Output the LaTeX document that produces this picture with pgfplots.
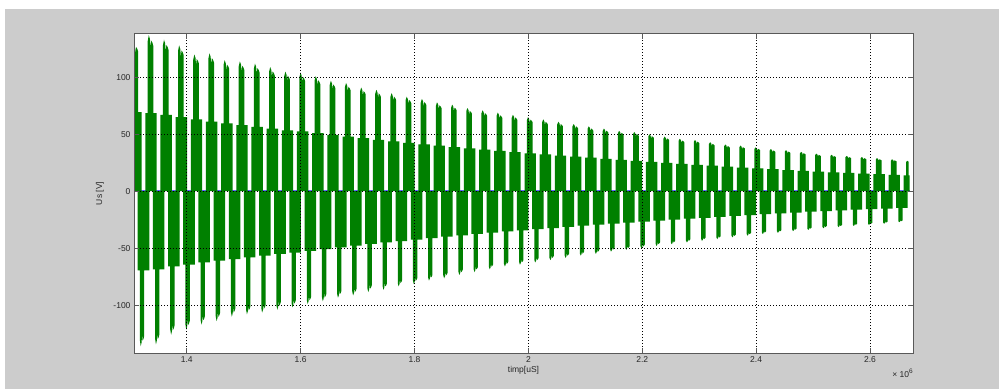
\documentclass[border=0pt]{standalone}
\usepackage{pgfplots}
\pgfplotsset{compat=1.18}
\usepackage{pgfplotstable}
\usepackage{fontspec}
\setmainfont{Liberation Sans}

\definecolor{figgray}{RGB}{204,204,204}
\definecolor{sgreen}{RGB}{0,128,0}
\definecolor{zblue}{RGB}{100,100,255}

% one row per switching cycle: c = centre of the positive burst [x 10^6 us],
% pk/pb = positive peak and plateau [V], nk/nb = negative peak and plateau [V]
\pgfplotstableread{
c      pk    pb    nk    nb
1.3098 131   69.5  138   70.5
1.3364 137   68.5  136   69.5
1.3631 133   67    134.5 68.5
1.3897 128   65    126   66
1.4164 120   63    121.5 64.5
1.4430 121   61    117   62.5
1.4696 115   59.5  114   61
1.4963 114   58    110   59.5
1.5229 112   56.5  108   58
1.5496 109   55    106.5 56.5
1.5762 105   53.5  104   55
1.6028 104   52.5  102   53.8
1.6295 101   51    99    52.3
1.6561 97    49.5  96.5  50.8
1.6828 95    48    93.5  49.3
1.7094 91    46.5  91.5  47.8
1.7360 89    45    88.5  46.3
1.7627 86    43.8  86.5  45
1.7893 83    42.5  83.5  43.7
1.8160 81    41.2  81.5  42.4
1.8426 78    40    78.5  41.1
1.8692 76    38.8  76.5  39.9
1.8959 73    37.6  73.5  38.7
1.9225 71    36.5  71    37.5
1.9492 69    35.4  68.5  36.4
1.9758 67    34.3  66    35.3
2.0024 65    33.3  64.5  34.3
2.0291 63    32.3  62.5  33.3
2.0557 61    31.3  60.5  32.3
2.0824 59    30.3  58.5  31.3
2.1090 57    29.4  56.5  30.3
2.1356 55    28.5  55    29.4
2.1623 53    27.6  53    28.5
2.1889 52    26.7  51.5  27.6
2.2156 50    25.8  50    26.7
2.2422 48    24.9  48    25.8
2.2688 46    24    46.5  24.9
2.2955 45    23.2  45    24.1
2.3221 43    22.4  43.5  23.3
2.3488 41    21.6  42    22.5
2.3754 40    20.8  40.5  21.7
2.4020 38.5  20    39    20.9
2.4287 37    19.3  37.5  20.1
2.4553 36    18.6  36.5  19.4
2.4820 34.5  17.9  35    18.7
2.5086 33    17.2  34    18
2.5352 32    16.6  32.5  17.4
2.5619 31    16    31.5  16.8
2.5885 30    15.4  30.5  16.2
2.6152 29    14.9  29.5  15.7
2.6418 28    14.4  28.5  15.2
2.6684 26.7  13.9  27.2  14.7
}\cycles

% positive burst: plateau with a notched spike, #1 centre, #2 peak, #3 plateau
\newcommand\pospulse[3]{%
  \pgfmathsetmacro\pXa{#1-0.0092}\pgfmathsetmacro\pXb{#1+0.0108}%
  \pgfmathsetmacro\pSa{#1-0.0050}\pgfmathsetmacro\pSb{#1-0.0030}%
  \pgfmathsetmacro\pSc{#1-0.0010}\pgfmathsetmacro\pSd{#1}%
  \pgfmathsetmacro\pSe{#1+0.0012}\pgfmathsetmacro\pSf{#1+0.0035}%
  \pgfmathsetmacro\pSg{#1+0.0050}%
  \pgfmathsetmacro\pYa{#3+0.92*(#2-#3)}\pgfmathsetmacro\pYb{#2}%
  \pgfmathsetmacro\pYc{#3+0.95*(#2-#3)}\pgfmathsetmacro\pYd{#3+0.84*(#2-#3)}%
  \pgfmathsetmacro\pYe{#3+0.93*(#2-#3)}\pgfmathsetmacro\pYf{#3+0.90*(#2-#3)}%
  \pgfmathsetmacro\pYg{#3+0.86*(#2-#3)}%
  \edef\tmp{\noexpand\addplot[draw=none,fill=sgreen,forget plot] coordinates {%
    (\pXa,0) (\pXa,#3) (\pSa,#3) (\pSa,\pYa) (\pSb,\pYb) (\pSc,\pYc) (\pSd,\pYd)
    (\pSe,\pYe) (\pSf,\pYf) (\pSg,\pYg) (\pSg,#3) (\pXb,#3) (\pXb,0)};}%
  \tmp}

% negative burst, preceding the positive one of the same cycle
\newcommand\negpulse[3]{%
  \pgfmathsetmacro\pXa{#1-0.0225}\pgfmathsetmacro\pXb{#1-0.0022}%
  \pgfmathsetmacro\pSa{#1-0.0187}\pgfmathsetmacro\pSb{#1-0.01716}%
  \pgfmathsetmacro\pSc{#1-0.01562}\pgfmathsetmacro\pSd{#1-0.01485}%
  \pgfmathsetmacro\pSe{#1-0.01393}\pgfmathsetmacro\pSf{#1-0.01215}%
  \pgfmathsetmacro\pSg{#1-0.0110}%
  \pgfmathsetmacro\pB{-#3}%
  \pgfmathsetmacro\pYa{-(#3+0.92*(#2-#3))}\pgfmathsetmacro\pYb{-#2}%
  \pgfmathsetmacro\pYc{-(#3+0.95*(#2-#3))}\pgfmathsetmacro\pYd{-(#3+0.84*(#2-#3))}%
  \pgfmathsetmacro\pYe{-(#3+0.93*(#2-#3))}\pgfmathsetmacro\pYf{-(#3+0.90*(#2-#3))}%
  \pgfmathsetmacro\pYg{-(#3+0.86*(#2-#3))}%
  \edef\tmp{\noexpand\addplot[draw=none,fill=sgreen,forget plot] coordinates {%
    (\pXa,0) (\pXa,\pB) (\pSa,\pB) (\pSa,\pYa) (\pSb,\pYb) (\pSc,\pYc) (\pSd,\pYd)
    (\pSe,\pYe) (\pSf,\pYf) (\pSg,\pYg) (\pSg,\pB) (\pXb,\pB) (\pXb,0)};}%
  \tmp}

\begin{document}
\begin{tikzpicture}[x=1pt,y=1pt]
  \path[use as bounding box] (0,0) rectangle (999,389);
  \fill[white] (0,0) rectangle (999,389);
  \fill[figgray] (5,0) rectangle (999,380);
  \begin{axis}[
    at={(134pt,36pt)}, anchor=south west,
    scale only axis, width=779pt, height=319pt,
    xmin=1.3074, xmax=2.6755, ymin=-142, ymax=138,
    xtick={1.4,1.6,1.8,2.0,2.2,2.4,2.6},
    xticklabels={1.4,1.6,1.8,2,2.2,2.4,2.6},
    ytick={-100,-50,0,50,100},
    tick align=inside, major tick length=5pt,
    xtick pos=both, ytick pos=both,
    grid=major,
    major grid style={black, line width=0.5pt, dash pattern=on 1pt off 2pt},
    axis line style={black!65, line width=1pt},
    tick style={black!65, line width=0.6pt},
    axis background/.style={fill=white},
    axis on top,
    /pgf/number format/assume math mode=true,
    ticklabel style={font=\fontsize{8.5}{10}\selectfont, text=black!85},
    xlabel={timp[uS]}, ylabel={Us [V]},
    label style={font=\fontsize{8.5}{10}\selectfont, text=black!85},
    xlabel style={at={(axis description cs:0.5,0)}, anchor=center, yshift=-17pt},
    ylabel style={at={(axis description cs:-0.0437,0.5)}, anchor=center},
  ]
    % auxiliary quantity near zero
    \addplot[zblue, line width=0.8pt, forget plot] coordinates {(1.3074,1) (2.6694,1)};

    \pgfplotsinvokeforeach{0,...,51}{%
      \pgfplotstablegetelem{#1}{c}\of\cycles \let\cc\pgfplotsretval
      \pgfplotstablegetelem{#1}{nk}\of\cycles \let\kk\pgfplotsretval
      \pgfplotstablegetelem{#1}{nb}\of\cycles \let\bb\pgfplotsretval
      \negpulse{\cc}{\kk}{\bb}
    }
    \pgfplotsinvokeforeach{0,...,50}{%
      \pgfplotstablegetelem{#1}{c}\of\cycles \let\cc\pgfplotsretval
      \pgfplotstablegetelem{#1}{pk}\of\cycles \let\kk\pgfplotsretval
      \pgfplotstablegetelem{#1}{pb}\of\cycles \let\bb\pgfplotsretval
      \pospulse{\cc}{\kk}{\bb}
    }
    % last burst, cut off where the record ends
    \addplot[draw=none, fill=sgreen, forget plot] coordinates {
      (2.6592,0) (2.6592,13.9) (2.6634,13.9) (2.6634,25.7) (2.6654,26.7)
      (2.6674,26.2) (2.6680,24.8) (2.6680,13.9) (2.6694,13.9) (2.6694,0)};
  \end{axis}
  \node[anchor=base east, font=\fontsize{8.5}{10}\selectfont, text=black!85, inner sep=0pt]
    at (913,12) {× 10\raisebox{3.5pt}{\fontsize{6.5}{7}\selectfont 6}};
\end{tikzpicture}
\end{document}
